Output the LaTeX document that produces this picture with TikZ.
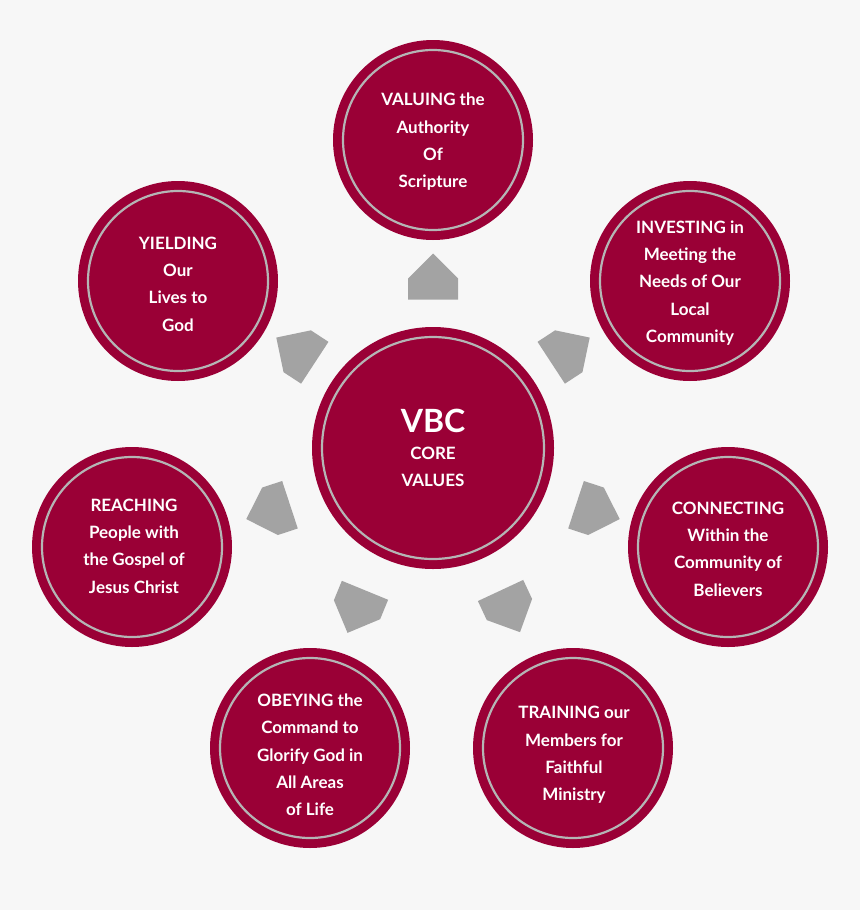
\documentclass[tikz,border=0pt]{standalone}
\usepackage{fontspec}
\setmainfont{Lato}
\usetikzlibrary{shapes.arrows}
\definecolor{crim}{HTML}{9A0036}
\definecolor{bg}{HTML}{F7F7F7}
\definecolor{ring}{HTML}{B5B5B5}
\definecolor{arr}{HTML}{A3A3A3}
\tikzset{
 sat/.style={circle,fill=crim,minimum size=200pt,inner sep=0pt,align=center,text=white,font=\fontsize{17}{27.5}\selectfont\bfseries,
   postaction={draw=ring,line width=2.2pt,shorten >=0pt}},
 ringc/.style={draw=ring,line width=2.2pt},
 blk/.style={single arrow,fill=arr,draw=none,minimum width=50pt,single arrow head extend=0pt,minimum height=46pt,inner sep=0pt,single arrow tip angle=90}
}
\begin{document}
\begin{tikzpicture}[x=1pt,y=-1pt]
\fill[bg] (0,0) rectangle (860,910);
\useasboundingbox (0,0) rectangle (860,910);
\foreach \n/\x/\y/\r in {c/433/448/121,t/433/140/100,ul/178/281/100,ur/690/281/100,l/132/547/100,r/728/547/100,bl/310/748/100,br/573/748/100}{
  \fill[crim] (\x,\y) circle (\r);
  \draw[ringc] (\x,\y) circle ({\r-10});
}
\tikzset{lab/.style={align=center,text=white,font=\fontsize{17}{27.3}\selectfont\bfseries}}
\node[lab] (c) at (433,448) {\fontsize{32}{52}\selectfont VBC\\CORE\\VALUES};
\node[lab] (t) at (433,142) {VALUING the\\Authority\\Of\\Scripture};
\node[lab] (ul) at (178,284) {YIELDING\\Our\\Lives to\\God};
\node[lab] (ur) at (690,283) {INVESTING in\\Meeting the\\Needs of Our\\Local\\Community};
\node[lab] (l) at (134,546) {REACHING\\People with\\the Gospel of\\Jesus Christ};
\node[lab] (r) at (728,549) {CONNECTING\\Within the\\Community of\\Believers};
\node[lab] (bl) at (310,755) {OBEYING the\\Command to\\Glorify God in\\All Areas\\of Life};
\node[lab] (br) at (574,755) {TRAINING our\\Members for\\Faithful\\Ministry};
\node[blk,rotate=90] (a1) at (433,289) {};
\node[blk,rotate=146.8] (a2) at (306,357) {};
\node[blk,rotate=33.2] (a3) at (560,357) {};
\node[blk,rotate=198.2] (a4) at (280,508) {};
\node[blk,rotate=-18.2] (a5) at (586,508) {};
\node[blk,rotate=247.7] (a6) at (361,600) {};
\node[blk,rotate=-65] (a7) at (505,600) {};
\end{tikzpicture}
\end{document}
